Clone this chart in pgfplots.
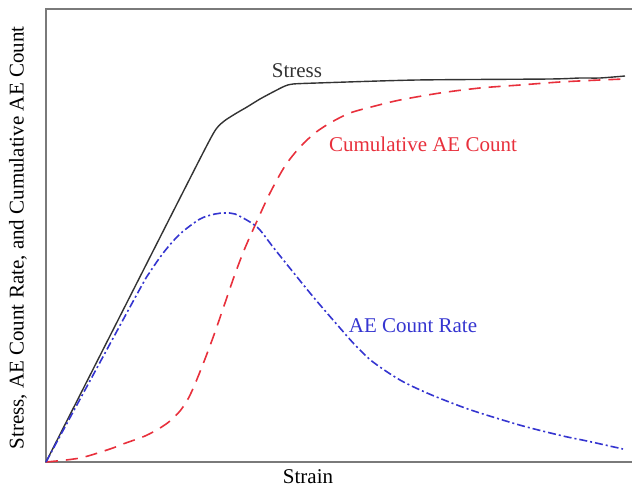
\documentclass[border=0pt]{standalone}
\usepackage{fontspec}
\setmainfont{Liberation Serif}
\usepackage{pgfplots}
\pgfplotsset{compat=1.18}
\definecolor{stresscol}{HTML}{333333}
\definecolor{cumcol}{HTML}{E8303C}
\definecolor{ratecol}{HTML}{3535D0}
\definecolor{framecol}{HTML}{7A7A7A}
\begin{document}
\begin{tikzpicture}
\path[use as bounding box] (-23pt,-13.5pt) rectangle (293pt,231pt);
\begin{axis}[
  at={(0,0)}, anchor=origin,
  scale only axis, width=293pt, height=226.5pt,
  xmin=0, xmax=586, ymin=0, ymax=453,
  axis line style={draw=none},
  ticks=none, clip=false,
  font=\fontsize{10.5}{12}\selectfont,
]
\draw[framecol, line width=1pt] (rel axis cs:1,1) -- (rel axis cs:0,1) -- (rel axis cs:0,0) -- (rel axis cs:1,0);
\addplot[stresscol, line width=0.7pt, smooth, tension=0.4] coordinates {
(0,0)(134,264)(167,328)(177,340)(189,348)(201,355)(214,363)(227,370)(239,376)(247,378)(271,379)(371,382)(504,383)(534,384)(554,384)(579,386)};
\addplot[cumcol, line width=0.8pt, smooth, tension=0.5, dash pattern=on 6pt off 4pt] coordinates {
(0,0)(34,4)(64,13)(77,18)(99,26)(114,34)(124,41)(134,51)(142,63)(149,78)(159,103)(169,130)(179,159)(189,188)(199,214)(211,241)(224,269)(239,296)(254,315)(269,329)(284,339)(304,349)(329,356)(354,362)(394,369)(434,374)(474,377)(514,380)(554,382)(579,383)};
\addplot[ratecol, line width=0.8pt, smooth, tension=0.5, dash pattern=on 4pt off 1.5pt on 1pt off 1.5pt] coordinates {
(0,0)(90,166)(104,190)(118,210)(134,228)(154,243)(169,248)(179,249)(189,248)(204,240)(214,232)(227,215)(247,190)(269,163)(294,134)(310,116)(327,100)(354,82)(381,69)(411,57)(434,49)(477,36)(517,26)(541,21)(577,13)};
\node[stresscol] at (axis cs:251,391) {Stress};
\node[cumcol] at (axis cs:377,318) {Cumulative AE Count};
\node[ratecol] at (axis cs:367,136) {AE Count Rate};
\node at (axis cs:262,-15) {Strain};
\node[rotate=90] at (axis cs:-28,224) {Stress, AE Count Rate, and Cumulative AE Count};
\end{axis}
\end{tikzpicture}
\end{document}
